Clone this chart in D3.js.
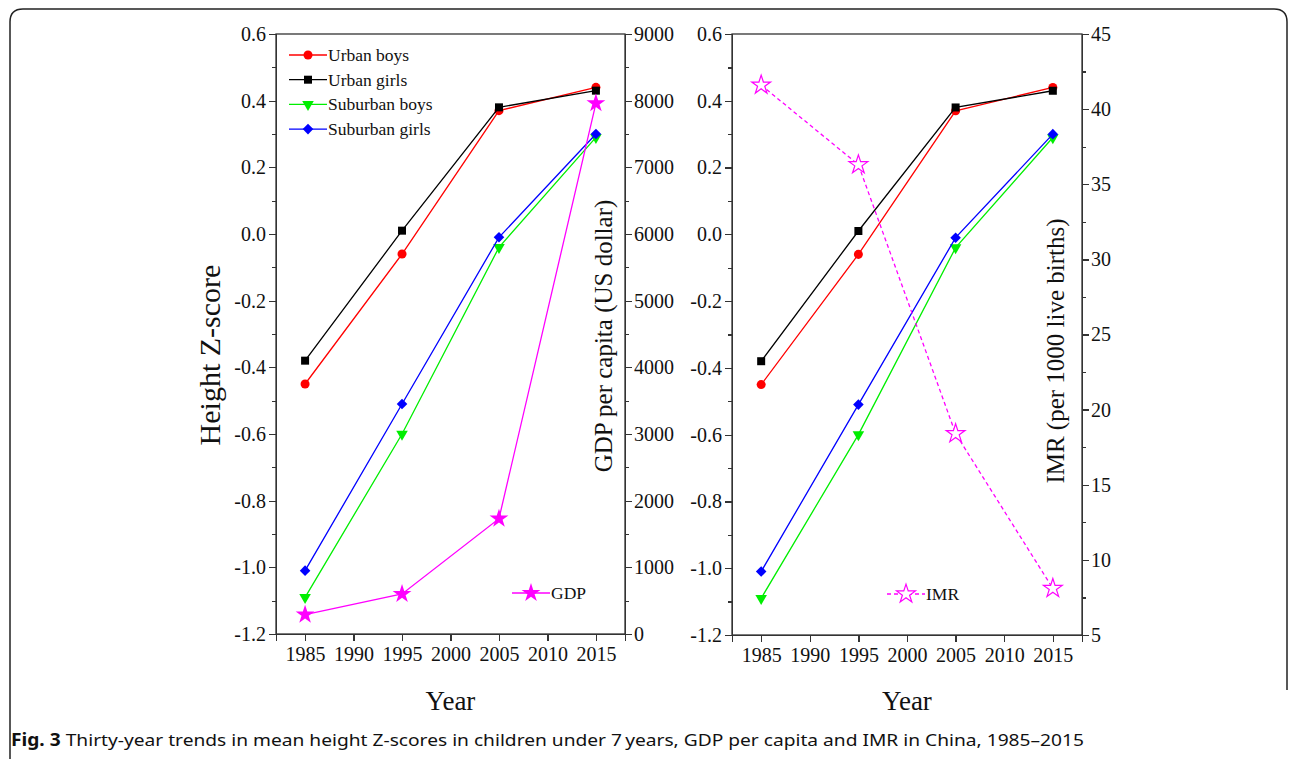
<!DOCTYPE html>
<html lang="en">
<head>
  <meta charset="utf-8">
  <title>Fig. 3</title>
  <script src="https://d3js.org/d3.v7.min.js"></script>
  <style>
    body { margin: 0; background: #fff; }
    .axis path, .axis line { fill: none; stroke: #333; stroke-width: 1.3; shape-rendering: crispEdges; }
    .title { font-family: "Liberation Serif", "Times New Roman", serif; fill: #111; }
    .legend text { font-family: "Liberation Serif", "Times New Roman", serif; font-size: 17.5px; fill: #111; }
  </style>
</head>
<body>
<script type="text/javascript">

  // chart values
  var years = [1985, 1995, 2005, 2015];
  var urbanBoys = [-0.45, -0.06, 0.37, 0.44];
  var urbanGirls = [-0.38, 0.01, 0.38, 0.43];
  var suburbanBoys = [-1.09, -0.60, -0.04, 0.29];
  var suburbanGirls = [-1.01, -0.51, -0.01, 0.30];
  var gdp = [290, 600, 1730, 7960];
  var imr = [41.6, 36.3, 18.4, 8.1];

  var xTicks = [1985, 1990, 1995, 2000, 2005, 2010, 2015];
  var zTicks = [-1.2, -1.0, -0.8, -0.6, -0.4, -0.2, 0.0, 0.2, 0.4, 0.6];
  var gdpTicks = [0, 1000, 2000, 3000, 4000, 5000, 6000, 7000, 8000, 9000];
  var imrTicks = [5, 10, 15, 20, 25, 30, 35, 40, 45];

  var groups = [
    {name: "Urban boys", values: urbanBoys, color: "#ff0000", symbol: "circle"},
    {name: "Urban girls", values: urbanGirls, color: "#000000", symbol: "square"},
    {name: "Suburban boys", values: suburbanBoys, color: "#00ee00", symbol: "triangle"},
    {name: "Suburban girls", values: suburbanGirls, color: "#0000ff", symbol: "diamond"}
  ];

  var W = 1292, H = 759;
  var svg = d3.select("body").append("svg")
    .attr("width", W)
    .attr("height", H);

  // rounded figure frame
  svg.append("path")
    .attr("d", "M10,759 L10,22 Q10,9 23,9 L1274,9 Q1287,9 1287,22 L1287,690")
    .attr("fill", "none")
    .attr("stroke", "#222")
    .attr("stroke-width", 1.5);

  function markerPath(type) {
    if (type == "circle") return d3.symbol(d3.symbolCircle, 64)();
    if (type == "square") return d3.symbol(d3.symbolSquare, 64)();
    if (type == "triangle") return d3.symbol(d3.symbolTriangle, 58)();
    if (type == "diamond") return d3.symbol(d3.symbolSquare, 56)();
    return d3.symbol(d3.symbolStar, 110)();
  }
  function markerRotate(type) {
    if (type == "triangle") return " rotate(180)";
    if (type == "diamond") return " rotate(45)";
    return "";
  }

  // serif tick labels, plain hyphen for minus
  function styleTicks(sel) {
    sel.selectAll("text")
      .style("font-family", "'Liberation Serif', 'Times New Roman', serif")
      .style("font-size", "20px")
      .style("fill", "#111")
      .text(function() { return this.textContent.replace("\u2212", "-"); });
  }

  // one panel: z-score lines plus a second series on the right axis
  function drawPanel(left, right, top, bottom, opts) {
    var g = svg.append("g");

    var xScale = d3.scaleLinear().domain([1982, 2018]).range([left, right]);
    var yScale = d3.scaleLinear().domain([-1.2, 0.6]).range([bottom, top]);
    var y2Scale = d3.scaleLinear().domain(opts.domain).range([bottom, top]);

    // frame
    g.append("rect")
      .attr("x", left).attr("y", top)
      .attr("width", right - left).attr("height", bottom - top)
      .attr("fill", "none").attr("stroke", "#333").attr("stroke-width", 1.3);

    // axes
    g.append("g").attr("class", "axis")
      .attr("transform", "translate(0," + bottom + ")")
      .call(d3.axisBottom(xScale).tickValues(xTicks).tickFormat(d3.format("d")).tickSize(7).tickPadding(6))
      .call(styleTicks);

    g.append("g").attr("class", "axis")
      .attr("transform", "translate(" + left + ",0)")
      .call(d3.axisLeft(yScale).tickValues(zTicks).tickFormat(d3.format(".1f")).tickSize(7).tickPadding(3))
      .call(styleTicks);
    g.append("g").attr("class", "axis")
      .attr("transform", "translate(" + left + ",0)")
      .call(d3.axisLeft(yScale).tickValues(d3.range(-11, 6, 2).map(function(d) { return d / 10; }))
        .tickFormat("").tickSize(4))
      .select(".domain").remove();

    g.append("g").attr("class", "axis")
      .attr("transform", "translate(" + right + ",0)")
      .call(d3.axisRight(y2Scale).tickValues(opts.ticks).tickFormat(d3.format("d")).tickSize(7).tickPadding(2))
      .call(styleTicks);
    g.append("g").attr("class", "axis")
      .attr("transform", "translate(" + right + ",0)")
      .call(d3.axisRight(y2Scale).tickValues(opts.minor).tickFormat("").tickSize(4))
      .select(".domain").remove();

    var line = d3.line()
      .x(function(d, i) { return xScale(years[i]); })
      .y(function(d) { return yScale(d); });

    groups.forEach(function(s) {
      g.append("path")
        .attr("d", line(s.values))
        .attr("fill", "none")
        .attr("stroke", s.color)
        .attr("stroke-width", 1.3);
      g.selectAll(null)
        .data(s.values)
        .enter().append("path")
        .attr("d", markerPath(s.symbol))
        .attr("transform", function(d, i) {
          return "translate(" + xScale(years[i]) + "," + yScale(d) + ")" + markerRotate(s.symbol);
        })
        .attr("fill", s.color);
    });

    // second series
    var line2 = d3.line()
      .x(function(d, i) { return xScale(years[i]); })
      .y(function(d) { return y2Scale(d); });
    g.append("path")
      .attr("d", line2(opts.values))
      .attr("fill", "none")
      .attr("stroke", "#ff00ff")
      .attr("stroke-width", 1.3)
      .attr("stroke-dasharray", opts.dashed ? "4,3" : null);
    g.selectAll(null)
      .data(opts.values)
      .enter().append("path")
      .attr("d", markerPath("star"))
      .attr("transform", function(d, i) {
        return "translate(" + xScale(years[i]) + "," + y2Scale(d) + ")";
      })
      .attr("fill", opts.dashed ? "#fff" : "#ff00ff")
      .attr("stroke", "#ff00ff")
      .attr("stroke-width", opts.dashed ? 1.2 : 0);

    // legend for second series
    var lg = g.append("g").attr("class", "legend")
      .attr("transform", "translate(" + (left + opts.legendX) + "," + (bottom - 41) + ")");
    lg.append("line")
      .attr("x1", 0).attr("x2", 38)
      .attr("stroke", "#ff00ff").attr("stroke-width", 1.3)
      .attr("stroke-dasharray", opts.dashed ? "4,3" : null);
    lg.append("path")
      .attr("d", markerPath("star"))
      .attr("transform", "translate(19,0)")
      .attr("fill", opts.dashed ? "#fff" : "#ff00ff")
      .attr("stroke", "#ff00ff")
      .attr("stroke-width", opts.dashed ? 1.2 : 0);
    lg.append("text").attr("x", 39).attr("y", 6).text(opts.label);

    // right axis title
    g.append("text").attr("class", "title")
      .attr("transform", "translate(" + (right + opts.titleDx) + "," + opts.titleY + ") rotate(-90)")
      .attr("text-anchor", "middle")
      .style("font-size", "25px")
      .text(opts.title);

    // x title
    g.append("text").attr("class", "title")
      .attr("x", (left + right) / 2).attr("y", 710)
      .attr("text-anchor", "middle")
      .style("font-size", "27px")
      .text("Year");

    return g;
  }

  var p1 = drawPanel(276, 625, 34, 634, {
    domain: [0, 9000], ticks: gdpTicks, minor: d3.range(500, 9000, 1000),
    values: gdp, dashed: false, label: "GDP", legendX: 236,
    title: "GDP per capita (US dollar)", titleDx: -13, titleY: 336
  });

  var p2 = drawPanel(732, 1082, 34, 635, {
    domain: [5, 45], ticks: imrTicks, minor: d3.range(7.5, 45, 5),
    values: imr, dashed: true, label: "IMR", legendX: 155,
    title: "IMR (per 1000 live births)", titleDx: -18, titleY: 351
  });

  // left panel legend for the four groups
  var legend = svg.append("g").attr("class", "legend");
  groups.forEach(function(s, i) {
    var row = legend.append("g").attr("transform", "translate(289," + (55 + i * 24.7) + ")");
    row.append("line").attr("x1", 0).attr("x2", 38)
      .attr("stroke", s.color).attr("stroke-width", 1.3);
    row.append("path")
      .attr("d", markerPath(s.symbol))
      .attr("transform", "translate(19,0)" + markerRotate(s.symbol))
      .attr("fill", s.color);
    row.append("text").attr("x", 39).attr("y", 6).text(s.name);
  });

  // left y title
  svg.append("text").attr("class", "title")
    .attr("transform", "translate(220,355) rotate(-90)")
    .attr("text-anchor", "middle")
    .style("font-size", "30px")
    .text("Height Z-score");

  // caption
  var cap = svg.append("text")
    .attr("x", 11).attr("y", 746)
    .attr("textLength", 1073)
    .attr("lengthAdjust", "spacingAndGlyphs")
    .style("font-family", "'Noto Sans', 'Open Sans', sans-serif")
    .style("font-size", "17px")
    .style("fill", "#111");
  cap.append("tspan").style("font-weight", "bold").text("Fig. 3");
  cap.append("tspan").text(" Thirty-year trends in mean height Z-scores in children under 7\u2009years, GDP per capita and IMR in China, 1985\u20132015");

</script>
</body>
</html>
